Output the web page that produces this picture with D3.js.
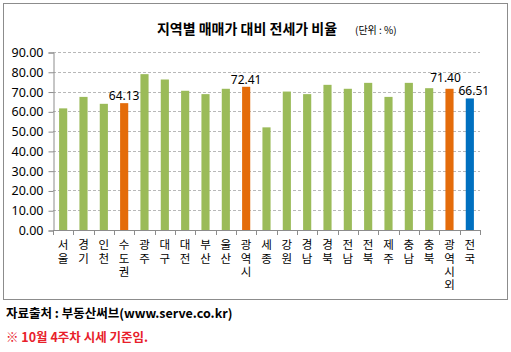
<!DOCTYPE html>
<html>
<head>
<meta charset="utf-8">
<script src="https://cdn.jsdelivr.net/npm/d3@7"></script>
<style>
  body { margin: 0; background: #fff; }
  text { font-family: "Noto Sans", "Noto Sans CJK KR", sans-serif; }
  .kr { font-family: "Noto Sans CJK KR", sans-serif; }
  .vert { writing-mode: vertical-rl; text-orientation: upright; }
</style>
</head>
<body>
<div id="chart"></div>
<script>
// Regions (x-axis categories)
var REGIONS = ['서울', '경기', '인천', '수도권', '광주', '대구', '대전', '부산', '울산', '광역시',
               '세종', '강원', '경남', '경북', '전남', '전북', '제주', '충남', '충북', '광역시외', '전국'];
// Ratio of jeonse price to sale price (%)
var RATIOS = [61.5, 67.3, 63.8, 64.13, 78.8, 76.1, 70.4, 68.7, 71.4, 72.41,
              51.9, 70.0, 68.7, 73.4, 71.4, 74.4, 67.3, 74.4, 71.7, 71.40, 66.51];
// Bar kind: r = region, s = subtotal, t = total
var KINDS = ['r', 'r', 'r', 's', 'r', 'r', 'r', 'r', 'r', 's',
             'r', 'r', 'r', 'r', 'r', 'r', 'r', 'r', 'r', 's', 't'];
// Y ticks
var YTICKS = [0, 10, 20, 30, 40, 50, 60, 70, 80, 90];

var COLORS = { r: '#9bbb59', s: '#e46c0a', t: '#0070c0' };

var W = 511, H = 352;
var svg = d3.select('#chart').append('svg')
  .attr('width', W).attr('height', H);

// chart frame
svg.append('rect')
  .attr('x', 3.5).attr('y', 3.5)
  .attr('width', 504).attr('height', 296)
  .attr('fill', '#fff').attr('stroke', '#8c8c8c').attr('stroke-width', 1);

var x = d3.scaleBand().domain(REGIONS).range([53, 480]).paddingInner(0.6).paddingOuter(0.3);
var y = d3.scaleLinear().domain([0, 90]).range([230, 52]);

// gridlines
svg.append('g')
  .selectAll('line')
  .data(YTICKS.slice(1))
  .join('line')
    .attr('x1', 53).attr('x2', 480)
    .attr('y1', function(d) { return Math.round(y(d)) + 0.5; })
    .attr('y2', function(d) { return Math.round(y(d)) + 0.5; })
    .attr('stroke', '#b8b8b8')
    .attr('stroke-dasharray', '3,2');

// y axis
var yAxis = svg.append('g')
  .attr('transform', 'translate(53.5,0.5)')
  .call(d3.axisLeft(y).tickValues(YTICKS).tickSize(5).tickPadding(5).tickFormat(d3.format('.2f')));
yAxis.select('.domain').attr('stroke', '#8c8c8c');
yAxis.selectAll('.tick line').attr('stroke', '#8c8c8c');
yAxis.selectAll('text')
  .attr('font-size', '12.5px').attr('fill', '#000')
  .style('font-family', '"Noto Sans", sans-serif');

// bars
svg.append('g')
  .selectAll('rect')
  .data(REGIONS)
  .join('rect')
    .attr('x', function(d) { return x(d); })
    .attr('width', x.bandwidth())
    .attr('y', function(d, i) { return y(RATIOS[i]); })
    .attr('height', function(d, i) { return y(0) - y(RATIOS[i]); })
    .attr('fill', function(d, i) { return COLORS[KINDS[i]]; });

// x axis line and ticks between categories
svg.append('line')
  .attr('x1', 53).attr('x2', 480)
  .attr('y1', 230.5).attr('y2', 230.5)
  .attr('stroke', '#8c8c8c');
svg.append('g')
  .selectAll('line')
  .data(REGIONS.concat(['end']))
  .join('line')
    .attr('x1', function(d, i) { return Math.round(53 + i * x.step()) + 0.5; })
    .attr('x2', function(d, i) { return Math.round(53 + i * x.step()) + 0.5; })
    .attr('y1', 230).attr('y2', 235)
    .attr('stroke', '#8c8c8c');

// vertical category labels (stacked characters)
svg.append('g')
  .selectAll('text')
  .data(REGIONS)
  .join('text')
    .attr('class', 'kr vert')
    .attr('x', function(d) { return x(d) + x.bandwidth() / 2; })
    .attr('y', 239)
    .attr('font-size', '11.5px')
    .attr('letter-spacing', '1.9px')
    .attr('fill', '#000')
    .text(function(d) { return d; });

// value labels on subtotal/total bars (last two nudged apart like the original)
var labelShift = { '광역시외': [-4, -4], '전국': [4, 0] };
svg.append('g')
  .selectAll('text')
  .data(REGIONS.filter(function(d, i) { return KINDS[i] !== 'r'; }))
  .join('text')
    .attr('x', function(d) { return x(d) + x.bandwidth() / 2 + (labelShift[d] ? labelShift[d][0] : 0); })
    .attr('y', function(d) { return y(RATIOS[REGIONS.indexOf(d)]) - 3 + (labelShift[d] ? labelShift[d][1] : 0); })
    .attr('text-anchor', 'middle')
    .attr('font-size', '12px')
    .attr('fill', '#000')
    .text(function(d) { return d3.format('.2f')(RATIOS[REGIONS.indexOf(d)]); });

// title
svg.append('text')
  .attr('class', 'kr')
  .attr('x', 247).attr('y', 34)
  .attr('text-anchor', 'middle')
  .attr('font-size', '14px').attr('font-weight', 'bold')
  .attr('fill', '#000')
  .text('지역별 매매가 대비 전세가 비율');
svg.append('text')
  .attr('class', 'kr')
  .attr('x', 355).attr('y', 34)
  .attr('font-size', '10px')
  .attr('fill', '#000')
  .text('(단위 : %)');

// footnotes
svg.append('text')
  .attr('class', 'kr')
  .attr('x', 6).attr('y', 318)
  .attr('font-size', '12.5px').attr('font-weight', 'bold')
  .attr('fill', '#000')
  .text('자료출처 : 부동산써브(www.serve.co.kr)');
svg.append('text')
  .attr('class', 'kr')
  .attr('x', 6).attr('y', 342)
  .attr('font-size', '12.5px').attr('font-weight', 'bold')
  .attr('fill', '#e8202a')
  .text('※ 10월 4주차 시세 기준임.');
</script>
</body>
</html>
